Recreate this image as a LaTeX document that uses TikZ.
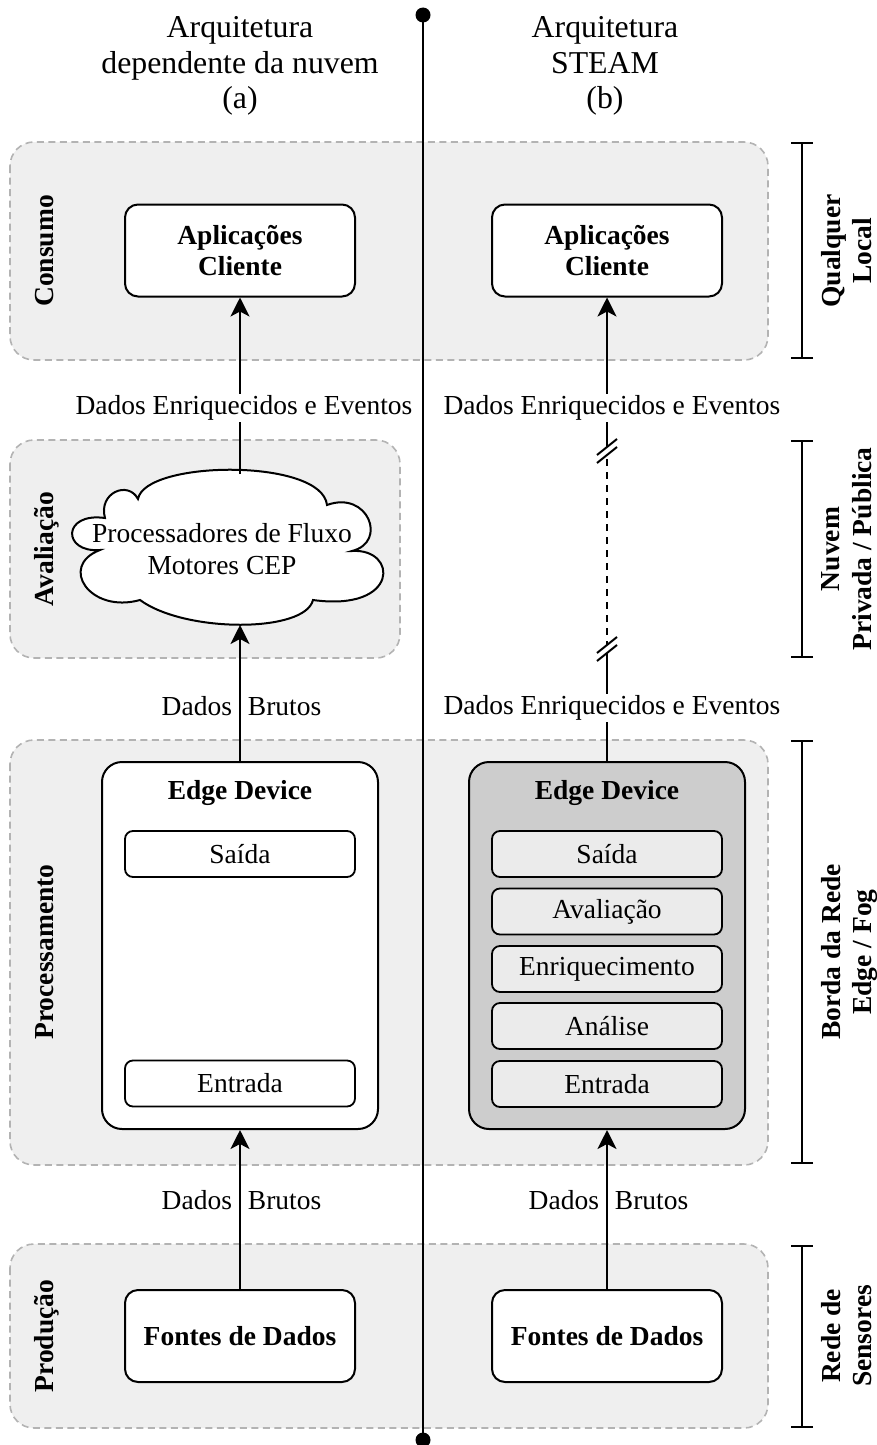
\documentclass[tikz,border=0pt]{standalone}
\usepackage{fontspec}
\setmainfont{Liberation Serif}
\usetikzlibrary{arrows.meta}

\definecolor{zonefill}{HTML}{EFEFEF}
\definecolor{zonedraw}{HTML}{B3B3B3}
\definecolor{devfill}{HTML}{CDCDCD}
\definecolor{layerfill}{HTML}{EBEBEB}

\newcommand\txtsize{\fontsize{27.5}{31.5}\selectfont}
\newcommand\headsize{\fontsize{31.8}{35.5}\selectfont}

\begin{document}
\begin{tikzpicture}[x=1pt,y=-1pt,
  zone/.style={draw=zonedraw, fill=zonefill, line width=1.6pt,
    dash pattern=on 7pt off 4.5pt, rounded corners=24pt},
  appbox/.style={draw, line width=2pt, fill=white, rounded corners=13pt,
    minimum width=230pt, minimum height=92pt, inner sep=0pt,
    align=center, font=\txtsize\bfseries},
  device/.style={draw, line width=2pt, rounded corners=20pt,
    minimum width=276pt, minimum height=367pt, inner sep=0pt},
  layer/.style={draw, line width=1.8pt, rounded corners=8pt,
    minimum width=230pt, minimum height=46pt, inner sep=0pt, font=\txtsize},
  devtitle/.style={font=\txtsize\bfseries, inner sep=0pt},
  flow/.style={line width=2pt, -{Stealth[length=19pt,width=19pt,inset=5pt]}},
  plain/.style={line width=2pt},
  lbl/.style={font=\txtsize, inner sep=2pt},
  lblfill/.style={lbl, fill=white},
  zonelbl/.style={font=\txtsize\bfseries, rotate=90, anchor=base, inner sep=0pt},
  sidelbl/.style={font=\txtsize\bfseries, rotate=90, align=center, inner sep=0pt},
  scalebar/.style={line width=2pt, {Bar[width=22pt]}-{Bar[width=22pt]}},
  head/.style={font=\headsize, align=center, inner sep=0pt},
  enddot/.style={circle, fill, minimum size=15pt, inner sep=0pt},
  brk/.style={line width=2pt},
]
\useasboundingbox (0,0) rectangle (877,1445);

% layer backgrounds
\draw[zone] (10,142) rectangle (768,360);
\draw[zone] (10,440) rectangle (400,658);
\draw[zone] (10,740) rectangle (768,1165);
\draw[zone] (10,1244) rectangle (768,1428);

% zone titles
\node[zonelbl] (zCons) at (53,251) {Consumo};
\node[zonelbl] (zAval) at (53,549) {Avaliação};
\node[zonelbl] (zProc) at (53,952) {Processamento};
\node[zonelbl] (zProd) at (53,1336) {Produção};

% divider between the two architectures
\node[enddot] (dotT) at (423,15) {};
\node[enddot] (dotB) at (423,1440) {};
\draw[plain] (dotT.center) -- (dotB.center);

% headings
\node[head] (headA) at (240,66) {Arquitetura\\dependente da nuvem\\(a)};
\node[head] (headB) at (605,66) {Arquitetura\\STEAM\\(b)};

% client applications
\node[appbox] (appL) at (240,250.5) {Aplicações\\Cliente};
\node[appbox] (appR) at (607,250.5) {Aplicações\\Cliente};

% cloud with stream processors
\draw[line width=2pt, fill=white]
  (138,499) .. controls (145,460) and (322,458) .. (327,505)
  .. controls (368,490) and (388,542) .. (352,551)
  .. controls (398,548) and (400,612) .. (313,600)
  .. controls (305,633) and (185,633) .. (140,600)
  .. controls (90,614) and (58,566) .. (100,550)
  .. controls (62,553) and (62,512) .. (105,518)
  .. controls (98,493) and (128,480) .. (138,499) -- cycle;
\node[font=\txtsize, align=center, inner sep=0pt] (cloudTxt) at (222,549)
  {Processadores de Fluxo\\Motores CEP};
\coordinate (cloudTop) at (240,474);
\coordinate (cloudBot) at (240,625);

% edge devices
\node[device, fill=white] (edgeL) at (240,945.5) {};
\node[devtitle] (edgeLt) at (240,793) {Edge Device};
\node[layer, fill=white] (outL) at (240,854) {Saída};
\node[layer, fill=white] (inL) at (240,1083.5) {Entrada};

\node[device, fill=devfill] (edgeR) at (607,945.5) {};
\node[devtitle] (edgeRt) at (607,793) {Edge Device};
\node[layer, fill=layerfill] (outR) at (607,854) {Saída};
\node[layer, fill=layerfill] (evalR) at (607,911.5) {Avaliação};
\node[layer, fill=layerfill] (enrR) at (607,969) {Enriquecimento};
\node[layer, fill=layerfill] (anaR) at (607,1026) {Análise};
\node[layer, fill=layerfill] (inR) at (607,1084) {Entrada};

% data sources
\node[appbox] (srcL) at (240,1336) {Fontes de Dados};
\node[appbox] (srcR) at (607,1336) {Fontes de Dados};

% flows, left architecture
\draw[flow] (srcL.north) -- (edgeL.south);
\node[lbl] (lbBrutoL1) at (241.5,1200) {Dados\hspace{16pt}Brutos};
\draw[flow] (edgeL.north) -- (cloudBot);
\node[lbl] (lbBrutoL2) at (241.5,706) {Dados\hspace{16pt}Brutos};
\draw[flow] (cloudTop) -- (appL.south);
\node[lblfill] (lbEnrL) at (244,408) {Dados Enriquecidos e Eventos};

% flows, right architecture
\coordinate (brkA) at (607,447);
\coordinate (brkB) at (607,455);
\coordinate (brkC) at (607,645);
\coordinate (brkD) at (607,653);
\draw[flow] (srcR.north) -- (edgeR.south);
\node[lbl] (lbBrutoR) at (608.5,1200) {Dados\hspace{16pt}Brutos};
\draw[plain] (edgeR.north) -- (brkD);
\draw[line width=2pt, dash pattern=on 7pt off 6pt, dash phase=-4pt] (brkB) -- (brkC);
\draw[flow] (brkA) -- (appR.south);
\draw[brk] (brkA) ++(-10,8) -- ++(20,-16);
\draw[brk] (brkB) ++(-10,8) -- ++(20,-16);
\draw[brk] (brkC) ++(-10,8) -- ++(20,-16);
\draw[brk] (brkD) ++(-10,8) -- ++(20,-16);
\node[lblfill] (lbEnrR1) at (612,708) {Dados Enriquecidos e Eventos};
\node[lblfill] (lbEnrR2) at (612,408) {Dados Enriquecidos e Eventos};

% location scale
\draw[scalebar] (802,142) -- (802,359);
\draw[scalebar] (802,440) -- (802,658);
\draw[scalebar] (802,740) -- (802,1164);
\draw[scalebar] (802,1245) -- (802,1428);
\node[sidelbl] (sLoc) at (846.5,251) {Qualquer\\Local};
\node[sidelbl] (sNuv) at (846.5,549) {Nuvem\\Privada / Pública};
\node[sidelbl] (sBor) at (849.5,952) {Borda da Rede\\Edge / Fog};
\node[sidelbl] (sSen) at (846.5,1336) {Rede de\\Sensores};
\end{tikzpicture}
\end{document}
